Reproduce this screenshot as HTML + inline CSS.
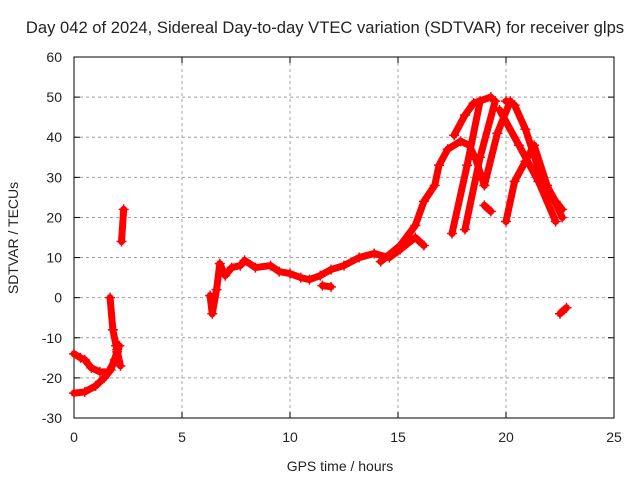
<!DOCTYPE html>
<html><head><meta charset="utf-8"><style>
body{margin:0;background:#fff}
svg text{font-family:"Liberation Sans",sans-serif;font-size:14px;fill:#222}
</style></head><body>
<svg id="chart" width="640" height="480" viewBox="0 0 640 480" xmlns="http://www.w3.org/2000/svg">
<rect width="640" height="480" fill="#fff"/>
<text x="325" y="33" text-anchor="middle" style="font-size:16.6px">Day 042 of 2024, Sidereal Day-to-day VTEC variation (SDTVAR) for receiver glps</text>
<g id="grid"></g>
<g id="axes"></g>
<g id="marks"></g>
<text x="340" y="471" text-anchor="middle">GPS time / hours</text>
<text transform="translate(18,238) rotate(-90)" text-anchor="middle">SDTVAR / TECUs</text>
</svg>
<script>
const xTicks=[0,5,10,15,20,25];
const yTicks=[-30,-20,-10,0,10,20,30,40,50,60];
const trackA=[[0,-23.8],[0.5,-23.5],[1.0,-22],[1.4,-20],[1.7,-18],[2.0,-13.5],[2.1,-12]];
const trackB=[[0,-14],[0.3,-15],[0.5,-15.5],[0.8,-17.5],[1.2,-18.5],[1.6,-18.5],[1.9,-15.5],[2.0,-13]];
const trackC=[[1.67,0],[1.8,-8],[1.95,-12],[2.15,-17]];
const trackD=[[2.2,14],[2.3,22]];
const trackE=[[6.3,0.5],[6.4,-4],[6.6,2],[6.75,8.5],[7.0,5.5],[7.3,7.5],[7.7,8],[7.9,9.3],[8.4,7.5],[9.1,8],[9.5,6.5],[10,6],[10.5,5],[10.9,4.5],[11.4,5.5],[11.9,7],[12.5,8],[13.2,10],[13.9,11],[14.6,10],[15.1,12],[15.8,15],[16.2,13]];
const trackF=[[11.5,3],[11.9,2.7]];
const trackG=[[14.2,9],[15.1,13],[15.8,18],[16.2,24],[16.7,28],[16.9,33],[17.3,37],[17.9,39],[18.3,38],[18.6,34.5],[19.0,28]];
const trackH=[[17.6,40.5],[18.1,45.5],[18.5,48.5],[19.3,50]];
const trackI=[[17.5,16],[18.2,33],[18.8,49]];
const trackJ=[[18.1,17],[18.8,35],[19.5,49]];
const trackK=[[19.0,28],[19.6,41],[20.2,49]];
const trackL=[[20.0,49],[20.4,48],[20.9,42],[21.6,30.5],[22.3,24],[22.6,22]];
const trackM=[[19.7,46.8],[20.6,38],[21.5,29],[22.3,19]];
const trackN=[[20.0,19],[20.4,29],[20.9,34],[21.3,38],[21.9,28],[22.6,20]];
const trackO=[[19.0,23],[19.3,21.5]];
const trackP=[[22.5,-4],[22.8,-2.5]];
const tracks=[trackA,trackB,trackC,trackD,trackE,trackF,trackG,trackH,trackI,trackJ,trackK,trackL,trackM,trackN,trackO,trackP];
const X0=74,X1=614,Y0=418,Y1=57;
const sx=v=>X0+(v-0)/(25-0)*(X1-X0);
const sy=v=>Y0-(v+30)/(60+30)*(Y0-Y1);
const NS="http://www.w3.org/2000/svg";
function mk(t,a,p){const e=document.createElementNS(NS,t);for(const k in a)e.setAttribute(k,a[k]);p.appendChild(e);return e;}
const grid=document.getElementById('grid'),axes=document.getElementById('axes'),marks=document.getElementById('marks');
xTicks.forEach(t=>{const x=sx(t);
 if(t>0&&t<25){const g=mk('line',{x1:x,x2:x,y1:Y1,y2:Y0,stroke:'#a0a0a0','stroke-dasharray':'3,3'},grid);
 
 }
 const l=mk('text',{x:x,y:Y0+24,'text-anchor':'middle'},axes);l.textContent=t;
 
 
 mk('line',{x1:x,x2:x,y1:Y0,y2:Y0-6,stroke:'#000'},axes);mk('line',{x1:x,x2:x,y1:Y1,y2:Y1+6,stroke:'#000'},axes);});
yTicks.forEach(t=>{const y=sy(t);
 if(t>-30&&t<60){const g=mk('line',{x1:X0,x2:X1,y1:y,y2:y,stroke:'#a0a0a0','stroke-dasharray':'3,3'},grid);
 
 }
 const l=mk('text',{x:X0-12,y:y+5,'text-anchor':'end'},axes);l.textContent=t;
 
 
 mk('line',{x1:X0,x2:X0+6,y1:y,y2:y,stroke:'#000'},axes);mk('line',{x1:X1,x2:X1-6,y1:y,y2:y,stroke:'#000'},axes);});
mk('rect',{x:X0,y:Y1,width:X1-X0,height:Y0-Y1,fill:'none',stroke:'#000'},axes);
tracks.forEach(tr=>{
 const p=mk('polyline',{points:tr.map(d=>sx(d[0])+','+sy(d[1])).join(' '),fill:'none',stroke:'#f00','stroke-width':7,'stroke-linejoin':'round','stroke-linecap':'round'},marks);
 
 
 tr.forEach(d=>{const x=sx(d[0]),y=sy(d[1]);
  const m=mk('path',{d:`M${x-5},${y}H${x+5}M${x},${y-5}V${y+5}`,stroke:'#f00','stroke-width':1.5},marks);
  
  });
});
</script>
</body></html>
